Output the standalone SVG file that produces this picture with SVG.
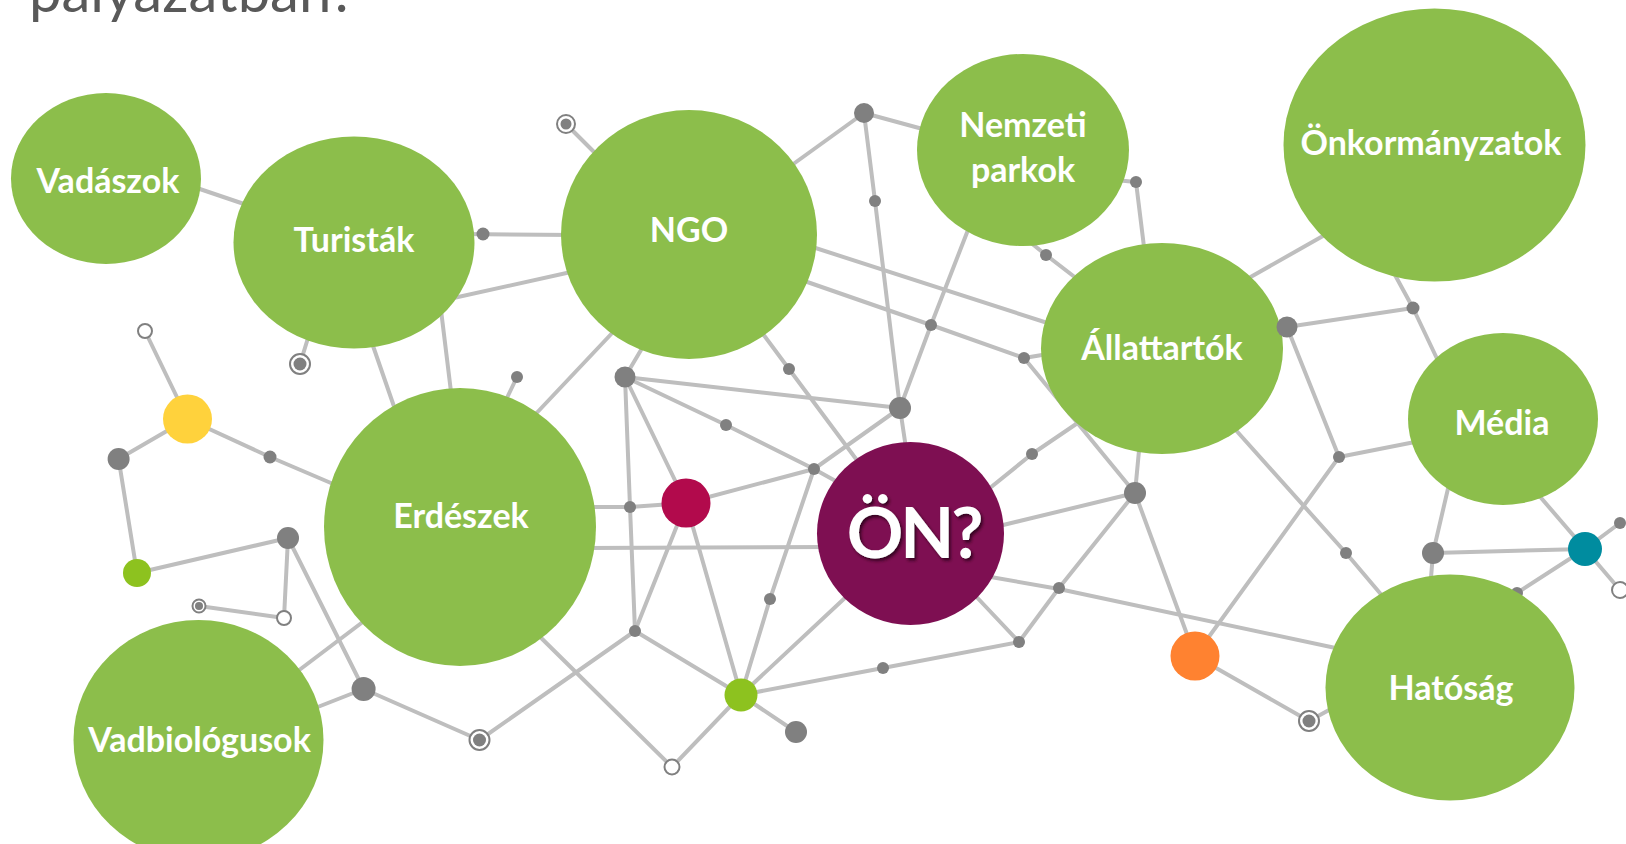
<svg xmlns="http://www.w3.org/2000/svg" width="1626" height="844" viewBox="0 0 1626 844">
<defs>
<style>
.edge{stroke:#BEBEBE;stroke-width:4;fill:none;stroke-linecap:round;stroke-linejoin:round}
.big{fill:#8CBE4B}
.lbl{font-family:Lato,"Liberation Sans",sans-serif;font-weight:700;font-size:34px;fill:#FFFFFF;text-anchor:middle}
.dot{fill:#808080}
.hollow{fill:#FFFFFF;stroke:#808080;stroke-width:2}
.ringo{fill:#FFFFFF;stroke:#808080;stroke-width:2}
.title{font-family:Lato,"Liberation Sans",sans-serif;font-size:58px;fill:#595959}
</style>
<filter id="shadow" x="-20%" y="-20%" width="140%" height="140%">
<feDropShadow dx="2" dy="2.5" stdDeviation="1.5" flood-color="#2A0019" flood-opacity="0.85"/>
</filter>
</defs>
<rect width="1626" height="844" fill="#FFFFFF"/>
<text class="title" x="29" y="12">pályázatban?</text>

<g id="connectors" class="edge">
<line x1="185" y1="184" x2="250" y2="206"/>
<line x1="566" y1="124" x2="600" y2="158"/>
<line x1="460" y1="234" x2="575" y2="235"/>
<line x1="440" y1="301" x2="580" y2="270"/>
<line x1="300" y1="364" x2="312" y2="325"/>
<line x1="372" y1="343" x2="398" y2="418"/>
<line x1="441" y1="310" x2="452" y2="400"/>
<line x1="517" y1="377" x2="505" y2="402"/>
<line x1="615" y1="330" x2="530" y2="420"/>
<line x1="145" y1="331" x2="187.5" y2="419"/>
<polyline points="118.6,459 187.5,419 270,457 345,489"/>
<polyline points="118.6,459 137,573 288,538 284,618 199,606"/>
<polyline points="288,538 363.6,689 479.5,740 635,631"/>
<line x1="363.6" y1="689" x2="305" y2="712"/>
<line x1="290" y1="677" x2="372" y2="615"/>
<line x1="528" y1="625" x2="672" y2="767"/>
<polyline points="585,507 630,507 686,503"/>
<line x1="585" y1="548" x2="830" y2="547"/>
<polyline points="641,350 625,377 630,507 635,631 741,695"/>
<line x1="625" y1="377" x2="900" y2="408"/>
<polyline points="625,377 726,425 814,469 850,489"/>
<line x1="625" y1="377" x2="686" y2="503"/>
<line x1="686" y1="503" x2="814" y2="469"/>
<line x1="686" y1="503" x2="635" y2="631"/>
<line x1="686" y1="503" x2="741" y2="695"/>
<line x1="741" y1="695" x2="672" y2="767"/>
<line x1="741" y1="695" x2="796" y2="732"/>
<polyline points="741,695 770,599 814,469"/>
<line x1="741" y1="695" x2="862" y2="582"/>
<polyline points="741,695 883,668 1019,642 970,590"/>
<polyline points="1019,642 1059,588 1135,493"/>
<polyline points="985,576 1059,589 1345,650"/>
<line x1="995" y1="527" x2="1135" y2="493"/>
<polyline points="985,492 1032,454 1085,418"/>
<line x1="900" y1="408" x2="907" y2="455"/>
<line x1="900" y1="408" x2="814" y2="469"/>
<polyline points="864,113 875,201 900,408"/>
<line x1="864" y1="113" x2="785" y2="170"/>
<line x1="864" y1="113" x2="930" y2="131"/>
<polyline points="975,212 931,325 900,408"/>
<polyline points="790,276 931,325 1024,358 1060,352"/>
<line x1="1024" y1="358" x2="1135" y2="493"/>
<line x1="800" y1="243" x2="1060" y2="327"/>
<polyline points="1025,238 1046,255 1085,285"/>
<polyline points="1115,180 1136,182 1145,255"/>
<line x1="1240" y1="283" x2="1330" y2="232"/>
<polyline points="1287,327 1413,308 1395,275"/>
<line x1="1413" y1="308" x2="1440" y2="365"/>
<polyline points="1287,327 1339,457 1420,441"/>
<line x1="1339" y1="457" x2="1195" y2="656"/>
<polyline points="1225,418 1346,553 1390,605"/>
<line x1="1135" y1="493" x2="1140" y2="440"/>
<line x1="1135" y1="493" x2="1195" y2="656"/>
<line x1="1195" y1="656" x2="1309" y2="721"/>
<line x1="1309" y1="721" x2="1340" y2="704"/>
<polyline points="1450,480 1433,553 1430,590"/>
<line x1="1433" y1="553" x2="1585" y2="549"/>
<line x1="1585" y1="549" x2="1530" y2="485"/>
<line x1="1585" y1="549" x2="1620" y2="523"/>
<line x1="1585" y1="549" x2="1620" y2="590"/>
<polyline points="1585,549 1517,593 1495,607"/>
<polyline points="760,330 789,369 862,467"/>
</g>

<g id="small-nodes">
<g id="g1"><circle class="dot" cx="864" cy="113" r="10"/></g>
<g id="g2"><circle class="dot" cx="875" cy="201" r="6"/></g>
<g id="g3"><circle class="dot" cx="483" cy="234" r="6.5"/></g>
<g id="g4"><circle class="dot" cx="517" cy="377" r="6"/></g>
<g id="g5"><circle class="dot" cx="625" cy="377" r="10.5"/></g>
<g id="g6"><circle class="dot" cx="900" cy="408" r="11"/></g>
<g id="g7"><circle class="dot" cx="931" cy="325" r="6"/></g>
<g id="g8"><circle class="dot" cx="1024" cy="358" r="6"/></g>
<g id="g9"><circle class="dot" cx="1046" cy="255" r="6"/></g>
<g id="g10"><circle class="dot" cx="1136" cy="182" r="6"/></g>
<g id="g12"><circle class="dot" cx="1413" cy="308" r="6.5"/></g>
<g id="g13"><circle class="dot" cx="1339" cy="457" r="6"/></g>
<g id="g14"><circle class="dot" cx="1135" cy="493" r="11"/></g>
<g id="g15"><circle class="dot" cx="1346" cy="553" r="6"/></g>
<g id="g16"><circle class="dot" cx="1433" cy="553" r="11"/></g>
<g id="g17"><circle class="dot" cx="1620" cy="523" r="6"/></g>
<g id="g18"><circle class="dot" cx="1517" cy="593" r="6"/></g>
<g id="g19"><circle class="dot" cx="1059" cy="588" r="6"/></g>
<g id="g20"><circle class="dot" cx="1019" cy="642" r="6"/></g>
<g id="g21"><circle class="dot" cx="883" cy="668" r="6"/></g>
<g id="g22"><circle class="dot" cx="796" cy="732" r="11"/></g>
<g id="g23"><circle class="dot" cx="770" cy="599" r="6"/></g>
<g id="g24"><circle class="dot" cx="726" cy="425" r="6"/></g>
<g id="g25"><circle class="dot" cx="789" cy="369" r="6"/></g>
<g id="g26"><circle class="dot" cx="630" cy="507" r="6"/></g>
<g id="g27"><circle class="dot" cx="635" cy="631" r="6"/></g>
<g id="g28"><circle class="dot" cx="118.6" cy="459" r="11"/></g>
<g id="g29"><circle class="dot" cx="270" cy="457" r="6.5"/></g>
<g id="g30"><circle class="dot" cx="288" cy="538" r="11"/></g>
<g id="g31"><circle class="dot" cx="363.6" cy="689" r="12"/></g>
<g id="g32"><circle class="dot" cx="814" cy="469" r="6"/></g>
<g id="g33"><circle class="dot" cx="1032" cy="454" r="6"/></g>
<g id="r1"><circle class="ringo" cx="566" cy="124" r="9"/><circle class="dot" cx="566" cy="124" r="5.5"/></g>
<g id="r2"><circle class="ringo" cx="300" cy="364" r="10"/><circle class="dot" cx="300" cy="364" r="6.5"/></g>
<g id="r3"><circle class="ringo" cx="199" cy="606" r="6.5"/><circle class="dot" cx="199" cy="606" r="4"/></g>
<g id="r4"><circle class="ringo" cx="479.5" cy="740" r="10"/><circle class="dot" cx="479.5" cy="740" r="6.5"/></g>
<g id="r5"><circle class="ringo" cx="1309" cy="721" r="10"/><circle class="dot" cx="1309" cy="721" r="6.5"/></g>
<g id="h1"><circle class="hollow" cx="145" cy="331" r="7"/></g>
<g id="h2"><circle class="hollow" cx="284" cy="618" r="7"/></g>
<g id="h3"><circle class="hollow" cx="672" cy="767" r="7.5"/></g>
<g id="h4"><circle class="hollow" cx="1620" cy="590" r="8"/></g>
<g id="yellow"><circle cx="187.5" cy="419" r="24.5" fill="#FFD23C"/></g>
<g id="lime1"><circle cx="137" cy="573" r="14" fill="#8DC21F"/></g>
<g id="crimson"><circle cx="686" cy="503" r="24.5" fill="#B20A4C"/></g>
<g id="lime2"><circle cx="741" cy="695" r="16.5" fill="#8DC21F"/></g>
<g id="orange"><circle cx="1195" cy="656" r="24.5" fill="#FF8230"/></g>
<g id="teal"><circle cx="1585" cy="549" r="17" fill="#008C9F"/></g>
</g>

<g id="vadaszok"><ellipse class="big" cx="106" cy="178.5" rx="95" ry="85.5"/><text class="lbl" x="108" y="193">Vadászok</text></g>
<g id="turistak"><ellipse class="big" cx="354" cy="242.5" rx="120.5" ry="106"/><text class="lbl" x="354" y="252">Turisták</text></g>
<g id="ngo"><ellipse class="big" cx="689" cy="234.5" rx="128" ry="124.5"/><text class="lbl" x="689" y="242">NGO</text></g>
<g id="nemzeti-parkok"><ellipse class="big" cx="1023" cy="150" rx="106" ry="96"/><text class="lbl" x="1023" y="137">Nemzeti</text><text class="lbl" x="1023" y="182">parkok</text></g>
<g id="onkormanyzatok"><ellipse class="big" cx="1434.5" cy="145" rx="151" ry="136.5"/><text class="lbl" x="1431" y="155">Önkormányzatok</text></g>
<g id="allattartok"><ellipse class="big" cx="1162" cy="348.5" rx="121" ry="105.5"/><text class="lbl" x="1162" y="360">Állattartók</text></g>
<g id="media"><ellipse class="big" cx="1503" cy="419" rx="95" ry="86"/><text class="lbl" x="1502" y="435">Média</text></g>
<g id="erdeszek"><ellipse class="big" cx="460" cy="527" rx="136" ry="139"/><text class="lbl" x="461" y="528">Erdészek</text></g>
<g id="vadbiologusok"><ellipse class="big" cx="198.5" cy="740" rx="125" ry="120"/><text class="lbl" x="199.5" y="752">Vadbiológusok</text></g>
<g id="hatosag"><ellipse class="big" cx="1450" cy="687.5" rx="124.5" ry="113"/><text class="lbl" x="1451" y="700">Hatóság</text></g>
<g id="on"><ellipse cx="910.5" cy="533.5" rx="93.5" ry="91.5" fill="#7E0F52"/><text x="913.5" y="558" filter="url(#shadow)" style="font-family:Lato,'Liberation Sans',sans-serif;font-weight:700;font-size:70px;fill:#FFFFFF;text-anchor:middle;letter-spacing:-3px">ÖN?</text></g>
<g id="g11"><circle class="dot" cx="1287" cy="327" r="10.5"/></g>
</svg>
